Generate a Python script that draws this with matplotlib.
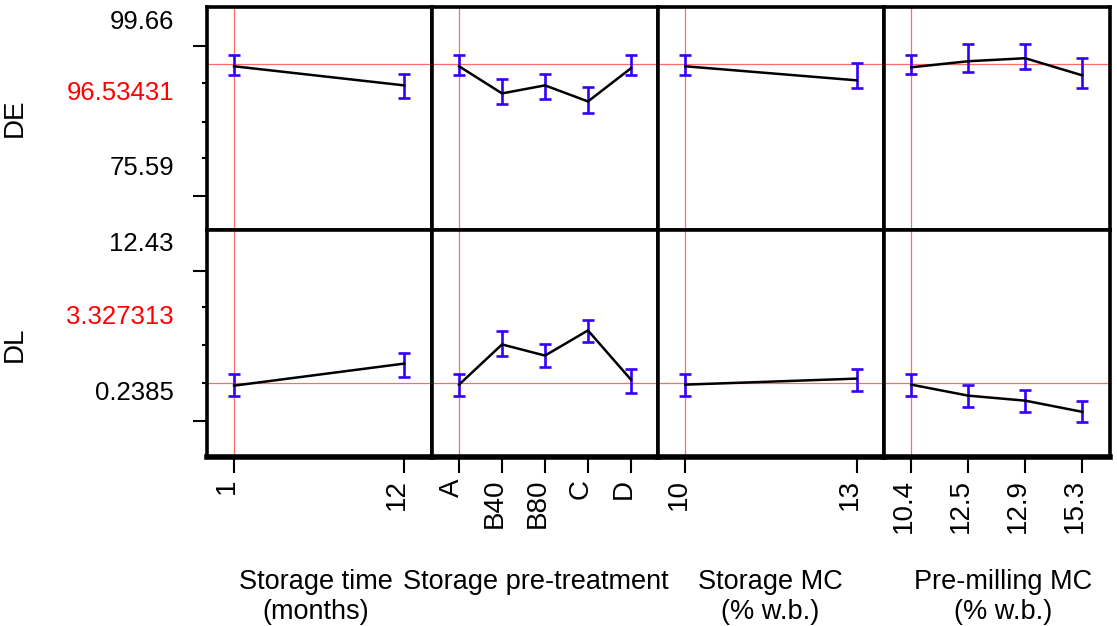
import matplotlib.pyplot as plt
import numpy as np

plt.rcParams['font.family'] = ['Liberation Sans', 'DejaVu Sans']

# factor levels (x axes)
storage_time = [1, 12]
pretreatment = ['A', 'B40', 'B80', 'C', 'D']
storage_mc = [10, 13]
premilling_mc = ['10.4', '12.5', '12.9', '15.3']

# DE profile: mean, lower and upper confidence limits
de_time = [96.08, 91.80]
de_time_lo = [94.06, 88.88]
de_time_hi = [98.56, 94.28]
de_pre = [96.08, 90.00, 91.80, 88.20, 95.63]
de_pre_lo = [94.06, 87.53, 88.65, 85.72, 94.06]
de_pre_hi = [98.56, 93.16, 94.28, 91.35, 98.56]
de_smc = [96.08, 92.93]
de_smc_lo = [94.06, 91.13]
de_smc_hi = [98.56, 96.76]
de_pmc = [95.86, 97.21, 97.89, 94.06]
de_pmc_lo = [94.28, 94.73, 95.41, 91.13]
de_pmc_hi = [98.56, 101.04, 101.04, 97.89]

# DL profile
dl_time = [0.00, 1.76]
dl_time_lo = [-0.80, 0.72]
dl_time_hi = [0.96, 2.64]
dl_pre = [0.08, 3.29, 2.40, 4.41, 0.48]
dl_pre_lo = [-0.80, 2.40, 1.52, 3.45, -0.56]
dl_pre_hi = [0.96, 4.33, 3.29, 5.21, 1.36]
dl_smc = [0.08, 0.56]
dl_smc_lo = [-0.80, -0.40]
dl_smc_hi = [0.96, 1.36]
dl_pmc = [0.08, -0.80, -1.20, -2.09]
dl_pmc_lo = [-0.80, -1.69, -2.09, -2.89]
dl_pmc_hi = [0.96, 0.08, -0.32, -1.20]

# response settings
responses = ['DE', 'DL']
ref_value = [96.53431, 0.2385]
y_limits = [(59.38, 109.37), (-5.70, 12.43)]
y_major = [[100.59, 67.03], [9.14, -2.81]]
y_minor = [[92.26, 83.70, 75.59], [6.25, 3.21, 0.2385]]
y_labels = [['99.66', '96.53431', '75.59'], ['12.43', '3.327313', '0.2385']]

x_titles = [('Storage time', '(months)'), ('Storage pre-treatment', ''),
            ('Storage MC', '(% w.b.)'), ('Pre-milling MC', '(% w.b.)')]

RED = '#ff6a6a'
BLUE = '#3300ff'


def factor_axes():
    # x positions, tick labels, limits, current setting
    return [
        (storage_time, [str(v) for v in storage_time], (-0.75, 13.8), storage_time[0]),
        (np.arange(len(pretreatment)), pretreatment, (-0.63, 4.63), 0),
        (storage_mc, [str(v) for v in storage_mc], (9.52, 13.48), storage_mc[0]),
        (np.arange(len(premilling_mc)), premilling_mc, (-0.48, 3.49), 0),
    ]


data = [
    [(de_time, de_time_lo, de_time_hi), (de_pre, de_pre_lo, de_pre_hi),
     (de_smc, de_smc_lo, de_smc_hi), (de_pmc, de_pmc_lo, de_pmc_hi)],
    [(dl_time, dl_time_lo, dl_time_hi), (dl_pre, dl_pre_lo, dl_pre_hi),
     (dl_smc, dl_smc_lo, dl_smc_hi), (dl_pmc, dl_pmc_lo, dl_pmc_hi)],
]

W, H = 1117, 626
col_edges = [207, 432, 658, 884, 1110]
row_edges = [7, 230, 457]

fig = plt.figure(figsize=(W / 100, H / 100), dpi=100)

label_frac = [[0.932, 0.613, 0.279], [0.938, 0.615, 0.283]]
title_x = [0.484, 0.458, 0.496, 0.529]

for r in range(2):
    for c, (xs, xt, xl, cur) in enumerate(factor_axes()):
        x0, x1 = col_edges[c], col_edges[c + 1]
        y0, y1 = row_edges[r], row_edges[r + 1]
        ax = fig.add_axes([x0 / W, 1 - y1 / H, (x1 - x0) / W, (y1 - y0) / H])
        mean, lo, hi = [np.array(a) for a in data[r][c]]

        ax.axhline(ref_value[r], color=RED, lw=0.9, zorder=1)
        ax.axvline(cur, color=RED, lw=0.9, zorder=1)
        ax.errorbar(xs, mean, yerr=[mean - lo, hi - mean], fmt='none', ecolor=BLUE,
                    elinewidth=1.9, capsize=4.2, capthick=1.9, zorder=2)
        ax.plot(xs, mean, color='black', lw=1.8, zorder=3)

        ax.set_xlim(*xl)
        ax.set_ylim(*y_limits[r])
        for s in ax.spines.values():
            s.set_linewidth(2.6)

        if c == 0:
            ax.set_yticks(y_major[r])
            ax.set_yticks(y_minor[r], minor=True)
            ax.tick_params(axis='y', which='major', length=10, width=1.5, labelleft=False)
            ax.tick_params(axis='y', which='minor', length=3.6, width=1.5)
            for i, (txt, fy) in enumerate(zip(y_labels[r], label_frac[r])):
                ax.text(-0.147, fy, txt, transform=ax.transAxes, ha='right', va='center',
                        fontsize=18.5, color='red' if i == 1 else 'black')
        else:
            ax.set_yticks([])

        if r == 0:
            ax.set_xticks([])
        else:
            ax.spines['bottom'].set_linewidth(4)
            ax.set_xticks(xs, labels=xt)
            ax.tick_params(axis='x', length=11.5, width=1.5, pad=4.3, labelsize=20)
            for lab in ax.get_xticklabels():
                lab.set_rotation(90)
                lab.set_rotation_mode('anchor')
                lab.set_ha('right')
                lab.set_va('baseline')
            line1, line2 = x_titles[c]
            ax.text(title_x[c], -0.580, line1, transform=ax.transAxes, ha='center',
                    va='baseline', fontsize=19.5)
            if line2:
                ax.text(title_x[c], -0.712, line2, transform=ax.transAxes, ha='center',
                        va='baseline', fontsize=19.5)

for name, yc in zip(responses, [118, 344]):
    fig.text(15 / W, 1 - yc / H, name, rotation=90, ha='center', va='center', fontsize=20)

fig.savefig('out.png', dpi=100)
